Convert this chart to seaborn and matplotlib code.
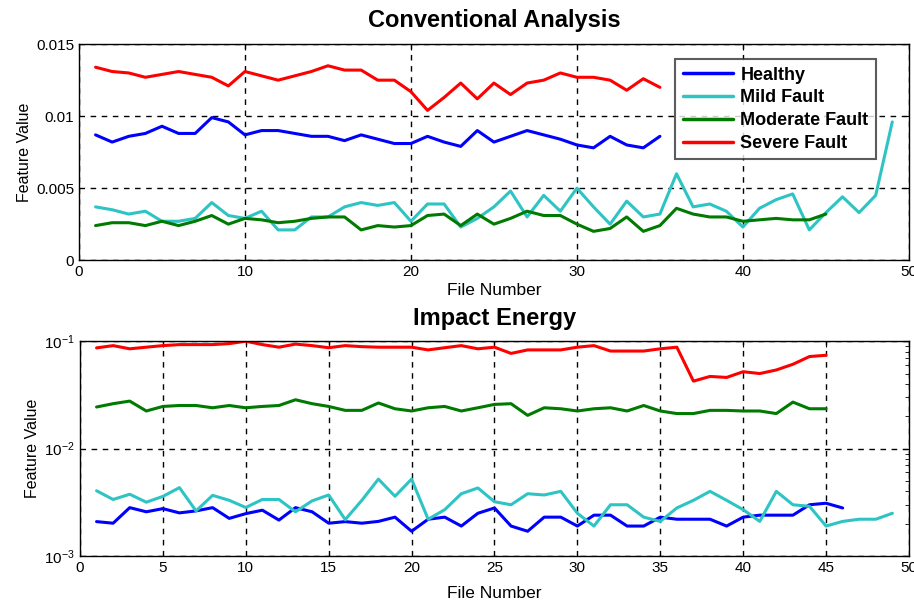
import numpy as np
import pandas as pd
import matplotlib
matplotlib.use("Agg")
import matplotlib.pyplot as plt
import matplotlib.ticker as mticker
import seaborn as sns

# ---------------- data ----------------
series_names = ["Healthy", "Mild Fault", "Moderate Fault", "Severe Fault"]
series_colors = ["#0000FF", "#2EC4C4", "#007A00", "#FF0000"]

# Conventional Analysis
conv_healthy = [0.0087, 0.0082, 0.0086, 0.0088, 0.0093, 0.0088, 0.0088, 0.0099, 0.0096, 0.0087,
                0.0090, 0.0090, 0.0088, 0.0086, 0.0086, 0.0083, 0.0087, 0.0084, 0.0081, 0.0081,
                0.0086, 0.0082, 0.0079, 0.0090, 0.0082, 0.0086, 0.0090, 0.0087, 0.0084, 0.0080,
                0.0078, 0.0086, 0.0080, 0.0078, 0.0086]
conv_mild = [0.0037, 0.0035, 0.0032, 0.0034, 0.0027, 0.0027, 0.0029, 0.0040, 0.0031, 0.0029,
             0.0034, 0.0021, 0.0021, 0.0030, 0.0030, 0.0037, 0.0040, 0.0038, 0.0040, 0.0027,
             0.0039, 0.0039, 0.0023, 0.0029, 0.0037, 0.0048, 0.0030, 0.0045, 0.0034, 0.0050,
             0.0037, 0.0025, 0.0041, 0.0030, 0.0032, 0.0060, 0.0037, 0.0039, 0.0034, 0.0023,
             0.0036, 0.0042, 0.0046, 0.0021, 0.0033, 0.0044, 0.0033, 0.0045, 0.0096]
conv_moderate = [0.0024, 0.0026, 0.0026, 0.0024, 0.0027, 0.0024, 0.0027, 0.0031, 0.0025, 0.0029,
                 0.0028, 0.0026, 0.0027, 0.0029, 0.0030, 0.0030, 0.0021, 0.0024, 0.0023, 0.0024,
                 0.0031, 0.0032, 0.0024, 0.0032, 0.0025, 0.0029, 0.0034, 0.0031, 0.0031, 0.0025,
                 0.0020, 0.0022, 0.0030, 0.0020, 0.0024, 0.0036, 0.0032, 0.0030, 0.0030, 0.0027,
                 0.0028, 0.0029, 0.0028, 0.0028, 0.0032]
conv_severe = [0.0134, 0.0131, 0.0130, 0.0127, 0.0129, 0.0131, 0.0129, 0.0127, 0.0121, 0.0131,
               0.0128, 0.0125, 0.0128, 0.0131, 0.0135, 0.0132, 0.0132, 0.0125, 0.0125, 0.0117,
               0.0104, 0.0113, 0.0123, 0.0112, 0.0123, 0.0115, 0.0123, 0.0125, 0.0130, 0.0127,
               0.0127, 0.0125, 0.0118, 0.0126, 0.0120]

# Impact Energy
imp_healthy = [0.00209, 0.00202, 0.00282, 0.00258, 0.00276, 0.00252, 0.00263, 0.00282, 0.00224, 0.00248,
               0.00267, 0.00216, 0.00282, 0.00258, 0.00202, 0.00209, 0.00202, 0.0021, 0.0023, 0.0017,
               0.0022, 0.0023, 0.0019, 0.0025, 0.0028, 0.0019, 0.0017, 0.0023, 0.0023, 0.0019,
               0.0024, 0.0024, 0.0019, 0.0019, 0.0023, 0.0022, 0.0022, 0.0022, 0.0019, 0.0023,
               0.0024, 0.0024, 0.0024, 0.0030, 0.0031, 0.0028]
imp_mild = [0.00405, 0.00336, 0.00376, 0.00317, 0.00359, 0.00433, 0.00263, 0.00367, 0.0033, 0.00283,
            0.00336, 0.00336, 0.00258, 0.00326, 0.0037, 0.00218, 0.0033, 0.0052, 0.0036, 0.0052,
            0.0022, 0.0027, 0.0038, 0.0043, 0.0032, 0.0030, 0.0038, 0.0037, 0.0040, 0.0025,
            0.0019, 0.0030, 0.0030, 0.0023, 0.0021, 0.0028, 0.0033, 0.0040, 0.0033, 0.0027,
            0.0021, 0.0040, 0.0030, 0.0029, 0.0019, 0.0021, 0.0022, 0.0022, 0.0025]
imp_moderate = [0.0244, 0.0262, 0.0277, 0.0224, 0.0247, 0.0252, 0.0252, 0.0240, 0.0252, 0.0240,
                0.0247, 0.0252, 0.0285, 0.0262, 0.0247, 0.0227, 0.0227, 0.0266, 0.0235, 0.0224,
                0.0240, 0.0247, 0.0224, 0.0240, 0.0258, 0.0262, 0.0204, 0.0240, 0.0235, 0.0224,
                0.0235, 0.0240, 0.0224, 0.0252, 0.0224, 0.0212, 0.0212, 0.0227, 0.0227, 0.0224,
                0.0224, 0.0212, 0.0271, 0.0235, 0.0235]
imp_severe = [0.0867, 0.091, 0.085, 0.088, 0.091, 0.093, 0.093, 0.093, 0.095, 0.100,
              0.093, 0.088, 0.094, 0.091, 0.087, 0.091, 0.089, 0.088, 0.088, 0.088,
              0.083, 0.087, 0.091, 0.085, 0.088, 0.077, 0.083, 0.083, 0.083, 0.088,
              0.091, 0.081, 0.081, 0.081, 0.085, 0.088, 0.0425, 0.047, 0.046, 0.052,
              0.050, 0.054, 0.061, 0.072, 0.074]


def long_frame(arrays):
    rows = []
    for name, arr in zip(series_names, arrays):
        for i, v in enumerate(arr, start=1):
            rows.append({"File Number": i, "Feature Value": v, "Condition": name})
    return pd.DataFrame(rows)


df_conv = long_frame([conv_healthy, conv_mild, conv_moderate, conv_severe])
df_imp = long_frame([imp_healthy, imp_mild, imp_moderate, imp_severe])

# ---------------- style ----------------
sns.set_style("white")
plt.rcParams["font.family"] = ["Liberation Sans", "DejaVu Sans"]
plt.rcParams["text.color"] = "black"
plt.rcParams["axes.labelcolor"] = "black"
plt.rcParams["xtick.color"] = "black"
plt.rcParams["ytick.color"] = "black"
plt.rcParams["xtick.direction"] = "in"
plt.rcParams["ytick.direction"] = "in"

palette = dict(zip(series_names, series_colors))

fig = plt.figure(figsize=(9.14, 6.05), dpi=100)
ax1 = fig.add_axes([0.0864, 0.570, 0.908, 0.357])
ax2 = fig.add_axes([0.0875, 0.081, 0.907, 0.355])

for ax, df in [(ax1, df_conv), (ax2, df_imp)]:
    sns.lineplot(data=df, x="File Number", y="Feature Value", hue="Condition",
                 hue_order=series_names, palette=palette, linewidth=2.2,
                 ax=ax, legend=(ax is ax1))
    ax.set_xlim(0, 50)
    for s in ax.spines.values():
        s.set_color("black")
        s.set_linewidth(1.0)
    ax.tick_params(axis="both", which="both", top=True, right=True,
                   labelsize=11, colors="black", length=4)
    ax.set_ylabel("Feature Value", fontsize=11.5, labelpad=3)

ax1.set_xlabel("File Number", fontsize=12.5, labelpad=3)
ax2.set_xlabel("File Number", fontsize=12.5, labelpad=8)

# top panel
ax1.set_ylim(0, 0.015)
ax1.set_xticks([0, 10, 20, 30, 40, 50])
ax1.set_yticks([0, 0.005, 0.01, 0.015])
ax1.yaxis.set_major_formatter(mticker.FuncFormatter(lambda v, p: "%g" % v))
ax1.grid(True, which="major", color="black", linestyle=(0, (4, 4)), linewidth=1.0)
ax1.set_title("Conventional Analysis", fontsize=17, fontweight="bold", pad=12)
leg = ax1.legend(loc="upper right", bbox_to_anchor=(0.960, 0.93), borderaxespad=0,
                 frameon=True, fancybox=False, edgecolor="#333333", handlelength=2.8,
                 borderpad=0.4, labelspacing=0.32, handletextpad=0.4,
                 prop={"family": ["Liberation Sans", "DejaVu Sans"], "weight": "bold", "size": 13})
leg.get_frame().set_linewidth(1.5)
for line in leg.get_lines():
    line.set_linewidth(2.5)

# bottom panel
ax2.set_yscale("log")
ax2.set_ylim(1e-3, 1e-1)
ax2.set_xticks(list(range(0, 55, 5)))
ax2.yaxis.set_major_locator(mticker.LogLocator(base=10, numticks=5))
ax2.yaxis.set_minor_locator(mticker.LogLocator(base=10, subs=np.arange(2, 10), numticks=20))
ax2.yaxis.set_minor_formatter(mticker.NullFormatter())
ax2.tick_params(axis="y", which="minor", length=3)
ax2.grid(True, which="major", axis="both", color="black", linestyle=(0, (4, 4)), linewidth=1.0)
ax2.set_title("Impact Energy", fontsize=17, fontweight="bold", pad=12)

fig.savefig("out.png", dpi=100)
